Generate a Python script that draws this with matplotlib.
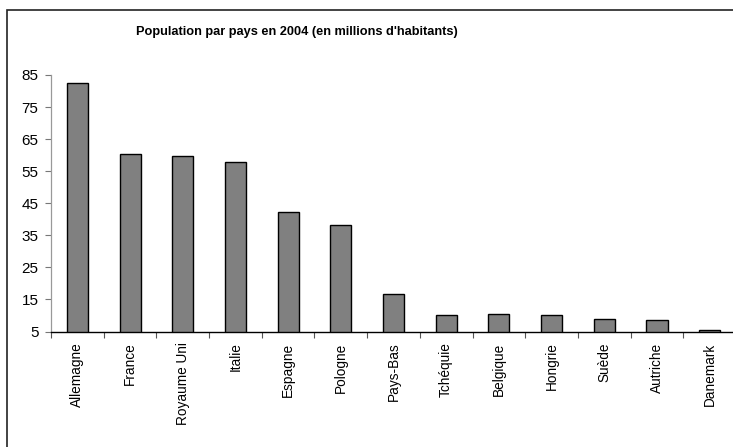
import matplotlib
matplotlib.use("Agg")
import matplotlib.pyplot as plt
from matplotlib.patches import Rectangle

countries = ["Allemagne", "France", "Royaume Uni", "Italie", "Espagne", "Pologne",
             "Pays-Bas", "Tchéquie", "Belgique", "Hongrie", "Suède", "Autriche", "Danemark"]
population = [82.5, 60.3, 59.8, 57.8, 42.4, 38.3, 16.7, 10.1, 10.6, 10.1, 9.0, 8.5, 5.5]
yticks = [5, 15, 25, 35, 45, 55, 65, 75, 85]
title = "Population par pays en 2004 (en millions d'habitants)"

W, H = 733, 447
plt.rcParams['font.family'] = ['Liberation Sans', 'DejaVu Sans']
fig = plt.figure(figsize=(W / 100, H / 100), dpi=100)

# outer chart frame
fig.patches.append(Rectangle((7 / W, -0.1), 1.2, (H - 10) / H + 0.1,
                             transform=fig.transFigure, fill=False,
                             edgecolor='#222222', linewidth=1.2))

ax = fig.add_axes([51 / W, (H - 331.5) / H, 685 / W, (331.5 - 75) / H])
x = list(range(len(countries)))
ax.bar(x, population, width=0.40, bottom=0, color='#808080',
       edgecolor='black', linewidth=1.0, zorder=2)

ax.set_ylim(5, 85)
ax.set_xlim(-0.5, len(countries) - 0.5)
ax.set_yticks(yticks)
ax.set_yticklabels([str(v) for v in yticks], fontsize=11)
ax.tick_params(axis='y', direction='out', length=4, width=0.8, color='#777777', pad=5)

ax.set_xticks(x)
ax.set_xticklabels(countries, rotation=90, fontsize=9.8, va='top', ha='center')
ax.tick_params(axis='x', which='major', length=0, pad=8)
ax.set_xticks([i - 0.5 for i in range(len(countries) + 1)], minor=True)
ax.tick_params(axis='x', which='minor', direction='out', length=4, width=0.8, color='#555555')

for s in ['top', 'right']:
    ax.spines[s].set_visible(False)
ax.spines['left'].set_color('#999999')
ax.spines['left'].set_linewidth(0.9)
ax.spines['bottom'].set_color('black')
ax.spines['bottom'].set_linewidth(1.0)

fig.text(297 / W, (H - 32) / H, title, ha='center', va='center',
         fontsize=9.2, fontweight='bold')

fig.savefig("out.png", dpi=100)
